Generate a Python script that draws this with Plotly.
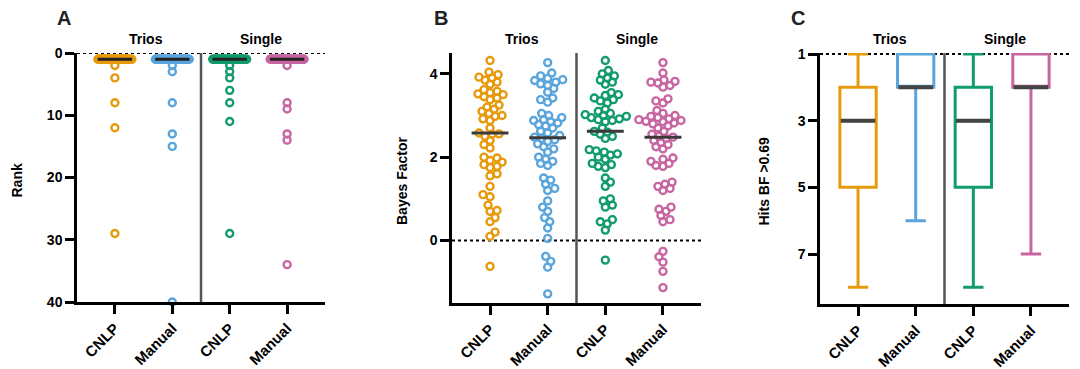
import numpy as np
import plotly.graph_objects as go

# ---------------- DATA ----------------
groups = ["CNLP", "Manual", "CNLP", "Manual"]
cohorts = ["Trios", "Single"]
colors = ["#E69A0C", "#5AA5DC", "#119B6E", "#C866A2"]

# Panel A: rank of causal gene (value -> count)
rank_trios_cnlp_vals = [1, 2, 4, 8, 12, 29]
rank_trios_cnlp_cnt = [48, 1, 1, 1, 1, 1]
rank_trios_manual_vals = [1, 2, 3, 8, 13, 15, 40]
rank_trios_manual_cnt = [46, 1, 1, 1, 1, 1, 1]
rank_single_cnlp_vals = [1, 2, 3, 4, 6, 8, 11, 29]
rank_single_cnlp_cnt = [45, 1, 1, 1, 1, 1, 1, 1]
rank_single_manual_vals = [1, 2, 8, 9, 13, 14, 34]
rank_single_manual_cnt = [47, 1, 1, 1, 1, 1, 1]

# Panel B: Bayes factors
bf_trios_cnlp = [4.32, 4.04, 3.98, 3.92, 3.9, 3.85, 3.8, 3.75, 3.62, 3.58, 3.55, 3.52, 3.5, 3.45,
                 3.42, 3.38, 3.25, 3.2, 3.15, 3.1, 3.05, 3.0, 2.98, 2.92, 2.88, 2.7, 2.58, 2.56,
                 2.55, 2.5, 2.4, 2.3, 2.22, 2.0, 1.98, 1.92, 1.88, 1.82, 1.78, 1.75, 1.6, 1.55,
                 1.3, 1.1, 1.05, 0.85, 0.72, 0.7, 0.55, 0.45, 0.2, 0.1, -0.62]
bf_trios_manual = [4.27, 4.02, 3.95, 3.89, 3.86, 3.84, 3.8, 3.76, 3.72, 3.65, 3.56, 3.42, 3.38,
                   3.32, 3.05, 3.0, 2.95, 2.9, 2.88, 2.85, 2.82, 2.78, 2.75, 2.7, 2.62, 2.58,
                   2.52, 2.48, 2.45, 2.42, 2.38, 2.32, 2.25, 2.2, 2.12, 2.0, 1.95, 1.9, 1.85,
                   1.8, 1.5, 1.45, 1.35, 1.25, 1.2, 0.95, 0.8, 0.7, 0.55, 0.45, 0.3, 0.05,
                   -0.38, -0.5, -0.64, -1.28]
bf_single_cnlp = [4.32, 4.08, 4.0, 3.95, 3.9, 3.85, 3.8, 3.75, 3.55, 3.5, 3.48, 3.42, 3.38, 3.35,
                  3.3, 3.15, 3.1, 3.05, 3.02, 3.0, 2.98, 2.95, 2.92, 2.9, 2.88, 2.85, 2.7, 2.62,
                  2.6, 2.55, 2.5, 2.45, 2.18, 2.15, 2.12, 2.08, 2.05, 2.0, 1.95, 1.85, 1.82,
                  1.78, 1.75, 1.5, 1.4, 1.3, 1.0, 0.95, 0.85, 0.8, 0.5, 0.45, 0.4, 0.25, -0.47]
bf_single_manual = [4.27, 4.02, 3.85, 3.82, 3.8, 3.78, 3.72, 3.68, 3.4, 3.35, 3.3, 3.12, 3.05,
                    3.0, 2.98, 2.95, 2.92, 2.9, 2.88, 2.86, 2.85, 2.82, 2.8, 2.75, 2.7, 2.62,
                    2.55, 2.5, 2.48, 2.45, 2.4, 2.35, 2.3, 2.25, 2.2, 1.98, 1.95, 1.9, 1.85,
                    1.8, 1.78, 1.4, 1.35, 1.3, 1.25, 1.2, 0.8, 0.75, 0.7, 0.6, 0.5, 0.45,
                    -0.26, -0.39, -0.52, -0.74, -1.13]

# Panel C: hits with BF > 0.69 (box statistics)
hits_min = [1, 1, 1, 1]
hits_q1 = [2, 1, 2, 1]
hits_median = [3, 2, 3, 2]
hits_q3 = [5, 2, 5, 2]
hits_max = [8, 6, 8, 7]

# ---------------- HELPERS ----------------
FONT = "Liberation Sans, Arial, Helvetica, sans-serif"
W, H = 1080, 369


def swarm(values, ppu_y, ppu_x, d=6.0):
    vals = np.asarray(values, float)
    order = np.argsort(vals)
    placed = []
    offs = np.zeros(len(vals))
    for k, i in enumerate(order):
        y = vals[i] * ppu_y
        sign = 1 if k % 2 == 0 else -1
        x = 0
        for step in range(0, 200):
            cands = [0] if step == 0 else [sign * step, -sign * step]
            done = False
            for x in cands:
                ok = True
                for (px, py) in placed:
                    if abs(py - y) < d and (px - x) ** 2 + (py - y) ** 2 < d * d:
                        ok = False
                        break
                if ok:
                    done = True
                    break
            if done:
                break
        placed.append((x, y))
        offs[i] = x / ppu_x
    return offs


def spread_counts(vals, cnts, ppu_x, d=6.0, maxhalf=17.0):
    xs, ys = [], []
    for v, c in zip(vals, cnts):
        half = min((c - 1) * d / 2.0, maxhalf)
        offs = [0.0] if c == 1 else np.linspace(-half, half, c)
        for o in offs:
            xs.append(o / ppu_x)
            ys.append(v)
    return np.array(xs), np.array(ys)


def px_x(p):
    return p / W


def px_y(p):
    return 1 - p / H


fig = go.Figure()

panels = [
    dict(xd=[77, 325], yd=[53, 302]),
    dict(xd=[452, 701], yd=[53, 303]),
    dict(xd=[820, 1069], yd=[53, 304]),
]
PPU_X = 57.5
MSIZE = 7
MLW = 2.4

# ---------------- PANEL A ----------------
rankA = [
    (rank_trios_cnlp_vals, rank_trios_cnlp_cnt),
    (rank_trios_manual_vals, rank_trios_manual_cnt),
    (rank_single_cnlp_vals, rank_single_cnlp_cnt),
    (rank_single_manual_vals, rank_single_manual_cnt),
]
for gi, (vals, cnts) in enumerate(rankA):
    xo, ys = spread_counts(vals, cnts, PPU_X)
    fig.add_trace(go.Scatter(
        x=gi + xo, y=ys, mode="markers", xaxis="x", yaxis="y", cliponaxis=False,
        marker=dict(symbol="circle-open", size=MSIZE, color=colors[gi], line=dict(width=MLW, color=colors[gi])),
        showlegend=False, hoverinfo="skip"))
for gi, (vals, cnts) in enumerate(rankA):
    med = float(np.median(np.repeat(vals, cnts)))
    fig.add_trace(go.Scatter(x=[gi - 0.3, gi + 0.3], y=[med, med], mode="lines", xaxis="x", yaxis="y",
                             line=dict(color="#222222", width=3), showlegend=False, hoverinfo="skip",
                             cliponaxis=False))

# ---------------- PANEL B ----------------
bfs = [bf_trios_cnlp, bf_trios_manual, bf_single_cnlp, bf_single_manual]
for gi, vals in enumerate(bfs):
    xo = swarm(vals, 41.6, PPU_X, d=6.5)
    fig.add_trace(go.Scatter(
        x=gi + xo, y=vals, mode="markers", xaxis="x2", yaxis="y2", cliponaxis=False,
        marker=dict(symbol="circle-open", size=MSIZE, color=colors[gi], line=dict(width=MLW, color=colors[gi])),
        showlegend=False, hoverinfo="skip"))
for gi, vals in enumerate(bfs):
    med = float(np.median(vals))
    fig.add_trace(go.Scatter(x=[gi - 0.32, gi + 0.32], y=[med, med], mode="lines", xaxis="x2", yaxis="y2",
                             line=dict(color="#3a3a3a", width=3), showlegend=False, hoverinfo="skip"))

# ---------------- PANEL C ----------------
for gi in range(4):
    fig.add_trace(go.Box(
        x=[gi], q1=[hits_q1[gi]], median=[hits_median[gi]], q3=[hits_q3[gi]],
        lowerfence=[hits_min[gi]], upperfence=[hits_max[gi]],
        xaxis="x3", yaxis="y3", width=0.63, whiskerwidth=0.56,
        line=dict(color=colors[gi], width=3), fillcolor="rgba(0,0,0,0)",
        showlegend=False, hoverinfo="skip"))
for gi in range(4):
    m = hits_median[gi]
    fig.add_trace(go.Scatter(x=[gi - 0.3, gi + 0.3], y=[m, m], mode="lines", xaxis="x3", yaxis="y3",
                             line=dict(color="#444444", width=4), showlegend=False, hoverinfo="skip"))

# ---------------- AXES ----------------
xtickfont = dict(family=FONT, size=15, color="black", weight="bold")
ytickfont = dict(family=FONT, size=14, color="black", weight="bold")
common_x = dict(range=[-0.66, 3.66], tickvals=[0, 1, 2, 3], ticktext=groups, tickangle=-45,
                showline=True, linecolor="black", linewidth=2.5, ticks="outside", ticklen=9,
                tickwidth=2.5, tickcolor="black", showgrid=False, zeroline=False, tickfont=xtickfont,
                fixedrange=True, automargin=False)
common_y = dict(showline=True, linecolor="black", linewidth=2.5, ticks="outside", ticklen=9,
                tickwidth=2.5, tickcolor="black", showgrid=False, zeroline=False, tickfont=ytickfont,
                fixedrange=True, automargin=False)

yranges = [[40, 0], [-1.5, 4.5], [8.5, 0.97]]
ytickvals = [[0, 10, 20, 30, 40], [0, 2, 4], [1, 3, 5, 7]]
layout_axes = {}
for i, p in enumerate(panels):
    sx = "" if i == 0 else str(i + 1)
    layout_axes["xaxis" + sx] = dict(common_x, domain=[px_x(p["xd"][0]), px_x(p["xd"][1])],
                                     anchor="y" + sx)
    layout_axes["yaxis" + sx] = dict(common_y, domain=[px_y(p["yd"][1]), px_y(p["yd"][0])],
                                     anchor="x" + sx, range=yranges[i], tickvals=ytickvals[i])

fig.update_layout(**layout_axes)

# ---------------- SHAPES ----------------
shapes = []
dot_y = [0, 0, 1]
for i, p in enumerate(panels):
    sx = "" if i == 0 else str(i + 1)
    shapes.append(dict(type="line", xref="x" + sx + " domain", x0=0, x1=1, yref="y" + sx,
                       y0=dot_y[i], y1=dot_y[i], line=dict(color="black", width=2, dash="dot"),
                       layer="below"))
    shapes.append(dict(type="line", xref="x" + sx, x0=1.5, x1=1.5, yref="y" + sx + " domain",
                       y0=0, y1=1, line=dict(color="#555555", width=2.5)))
fig.update_layout(shapes=shapes)

# ---------------- ANNOTATIONS ----------------
ann = []
letters = ["A", "B", "C"]
letter_x = [64, 441, 798]
ytitles = ["Rank", "Bayes Factor", "Hits BF >0.69"]
ytitle_x = [17, 402, 763]
for i, p in enumerate(panels):
    sx = "" if i == 0 else str(i + 1)
    ann.append(dict(text=letters[i], x=px_x(letter_x[i]), y=px_y(18), xref="paper", yref="paper",
                    showarrow=False, xanchor="center", yanchor="middle",
                    font=dict(family=FONT, size=20, color="#222", weight="bold")))
    ymid = (p["yd"][0] + p["yd"][1]) / 2 + 3
    ann.append(dict(text=ytitles[i], x=px_x(ytitle_x[i]), y=px_y(ymid), xref="paper", yref="paper",
                    showarrow=False, textangle=-90, xanchor="center", yanchor="middle",
                    font=dict(family=FONT, size=14, color="black", weight="bold")))
    for ci, c in enumerate(cohorts):
        ann.append(dict(text=c, x=0.55 + 2 * ci, y=px_y(39), xref="x" + sx, yref="paper",
                        showarrow=False, xanchor="center", yanchor="middle",
                        font=dict(family=FONT, size=14, color="black", weight="bold")))
fig.update_layout(annotations=ann)

fig.update_layout(width=W, height=H, margin=dict(l=0, r=0, t=0, b=0, pad=0, autoexpand=False),
                  plot_bgcolor="white", paper_bgcolor="white", showlegend=False,
                  font=dict(family=FONT, color="black"))

fig.write_html("out.html", config={"displayModeBar": False},
               post_script="document.body.style.margin='0';document.body.style.overflow='hidden';")
